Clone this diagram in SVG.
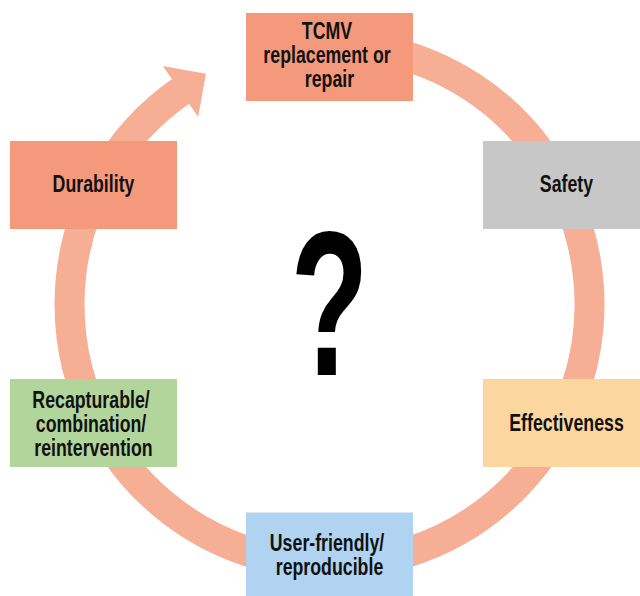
<svg xmlns="http://www.w3.org/2000/svg" width="640" height="596" viewBox="0 0 640 596">
  <style>
    .lbl { font-family: "Liberation Sans", Arial, sans-serif; font-weight: bold; font-size: 24px; fill: #111111; text-anchor: middle; }
    .q { font-family: "Liberation Sans", Arial, sans-serif; font-weight: bold; font-size: 206px; fill: #000000; text-anchor: middle; }
    .ring { fill: none; stroke: #F6AF95; stroke-width: 30; }
  </style>
  <defs>
    <marker id="ah" markerUnits="userSpaceOnUse" viewBox="0 0 40 70" markerWidth="40" markerHeight="70" refX="1" refY="35" orient="auto" overflow="visible">
      <path d="M0 4 L31 35 L0 66 Z" fill="#F6AF95"/>
    </marker>
  </defs>
  <rect width="640" height="596" fill="#ffffff"/>

  <g id="connectors">
    <path class="ring" d="M329.5 44.5 A260 260 0 1 1 181.3 90.9" marker-end="url(#ah)"/>
  </g>

  <g id="center-question">
    <text class="q" transform="matrix(0.62 0 0 1 329.5 0)" x="0" y="375">?</text>
  </g>

  <g id="node-tcmv">
    <rect x="246" y="13" width="167" height="88" fill="#F4997B"/>
    <text class="lbl" transform="matrix(0.74 0 0 1 329.5 0)">
      <tspan x="0" y="39.5">TCMV</tspan>
      <tspan x="0" y="63.5">replacement or</tspan>
      <tspan x="0" y="87.5">repair</tspan>
    </text>
  </g>

  <g id="node-safety">
    <rect x="483" y="141" width="167" height="88" fill="#C6C7C6"/>
    <text class="lbl" transform="matrix(0.74 0 0 1 566.5 0)" x="0" y="191.7">Safety</text>
  </g>

  <g id="node-effectiveness">
    <rect x="483" y="379" width="167" height="88" fill="#FCD69F"/>
    <text class="lbl" transform="matrix(0.74 0 0 1 566.5 0)" x="0" y="431.5">Effectiveness</text>
  </g>

  <g id="node-userfriendly">
    <rect x="246" y="512.5" width="167" height="88" fill="#AFD3F0"/>
    <text class="lbl" transform="matrix(0.74 0 0 1 329.5 0)">
      <tspan x="0" y="551">User-friendly/</tspan>
      <tspan x="0" y="575">reproducible</tspan>
    </text>
  </g>

  <g id="node-recapturable">
    <rect x="10" y="379" width="167" height="88" fill="#B2D59C"/>
    <text class="lbl" transform="matrix(0.74 0 0 1 93.5 0)">
      <tspan x="0" y="408">Recapturable/</tspan>
      <tspan x="0" y="432">combination/</tspan>
      <tspan x="0" y="456">reintervention</tspan>
    </text>
  </g>

  <g id="node-durability">
    <rect x="10" y="141" width="167" height="88" fill="#F4997B"/>
    <text class="lbl" transform="matrix(0.74 0 0 1 93.5 0)" x="0" y="191.7">Durability</text>
  </g>
</svg>
